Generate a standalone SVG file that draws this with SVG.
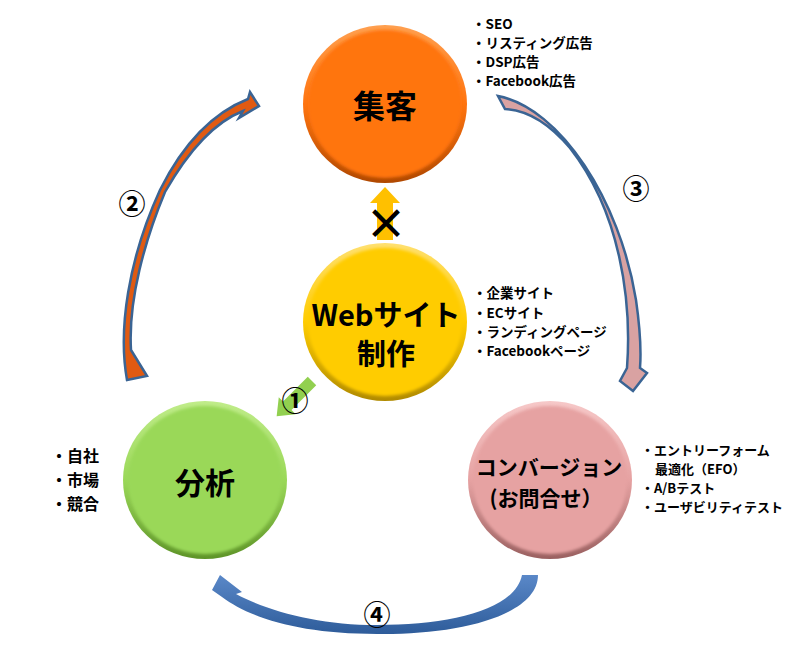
<svg xmlns="http://www.w3.org/2000/svg" width="800" height="651" viewBox="0 0 800 651">
<defs>
<linearGradient id="rimO" x1="0" y1="0" x2="0" y2="1"><stop offset="0" stop-color="#FFA050"/><stop offset="0.5" stop-color="#FF7410"/><stop offset="1" stop-color="#B04800"/></linearGradient>
<linearGradient id="rimY" x1="0" y1="0" x2="0" y2="1"><stop offset="0" stop-color="#FFE070"/><stop offset="0.5" stop-color="#FFCC00"/><stop offset="1" stop-color="#B08A00"/></linearGradient>
<linearGradient id="rimG" x1="0" y1="0" x2="0" y2="1"><stop offset="0" stop-color="#C0EC8A"/><stop offset="0.5" stop-color="#9AD858"/><stop offset="1" stop-color="#5E9428"/></linearGradient>
<linearGradient id="rimP" x1="0" y1="0" x2="0" y2="1"><stop offset="0" stop-color="#F6C8C8"/><stop offset="0.5" stop-color="#E6A2A2"/><stop offset="1" stop-color="#9A6060"/></linearGradient>
<linearGradient id="blueArr" x1="0" y1="0" x2="0" y2="1"><stop offset="0" stop-color="#5A88C8"/><stop offset="1" stop-color="#2E5C9A"/></linearGradient>
<filter id="soft" x="-10%" y="-10%" width="120%" height="120%"><feGaussianBlur stdDeviation="1.5"/></filter>
<style>
.lbl{font-family:"Noto Sans CJK JP","Noto Sans",sans-serif;font-weight:bold;fill:#000;}
.big{text-anchor:middle;dominant-baseline:central;}
.list{font-size:13.5px;}
.list2{font-size:13px;}
.num{font-size:27px;text-anchor:middle;dominant-baseline:central;}
.outl{stroke:#3A6494;stroke-width:2.5;stroke-linejoin:miter;}
</style>
</defs>
<rect width="800" height="651" fill="#FFFFFF"/>

<g id="connectors">
  <!-- arrow 2: analysis -> attract -->
  <path class="outl" fill="#E05A12" d="M127,380 C118,330 128,260 160,190 C185,140 215,112 248,99 L250,92 L259,106 L239,118 L243,111 C215,122 190,148 165,192 C145,240 128,300 131,350 L147,376 Z"/>
  <!-- arrow 3: attract -> conversion -->
  <path class="outl" fill="#D9A2A2" d="M498,96 C560,108 620,200 636,300 C641,335 641,355 640,368 L647,373 L633,391 L620,381 L627,368 C632,300 620,212 570,148 C548,122 525,110 505,109 Z"/>
  <!-- arrow 4: conversion -> analysis -->
  <path fill="url(#blueArr)" d="M538,575 C538,615 460,635 377,634 C300,634 250,618 222,597 L212,590 L220,575 L242,592 L236,594 C270,612 320,625 377,625 C450,625 515,610 522,575 Z"/>
  <!-- arrow 1: web -> analysis -->
  <polygon fill="#92D050" transform="translate(312,381) rotate(135)" points="0,-6 35,-6 35,-12 50,0 35,12 35,6 0,6"/>
  <!-- blocked arrow: web -> attract -->
  <polygon fill="#FFC000" points="377,240 377,203 370,203 385,187 400,203 393,203 393,240"/>
  <text class="lbl" x="386" y="220" font-size="42" text-anchor="middle" dominant-baseline="central">×</text>
  <text class="lbl num" x="295" y="399">①</text>
  <text class="lbl num" x="132" y="202">②</text>
  <text class="lbl num" x="636" y="187">③</text>
  <text class="lbl num" x="377" y="613">④</text>
</g>

<g id="node-shukaku">
  <ellipse cx="385" cy="104" rx="82" ry="79" fill="url(#rimO)"/>
  <ellipse cx="385" cy="104" rx="77" ry="74" fill="#FF7410" filter="url(#soft)"/>
  <text class="lbl big" x="385" y="104" font-size="32">集客</text>
</g>

<g id="node-web">
  <ellipse cx="385" cy="322" rx="82" ry="79" fill="url(#rimY)"/>
  <ellipse cx="385" cy="322" rx="77" ry="74" fill="#FFCC00" filter="url(#soft)"/>
  <text class="lbl big" x="386" y="313" font-size="29">Webサイト</text>
  <text class="lbl big" x="386" y="352" font-size="29">制作</text>
</g>

<g id="node-bunseki">
  <ellipse cx="205" cy="480" rx="82" ry="79" fill="url(#rimG)"/>
  <ellipse cx="205" cy="480" rx="77" ry="74" fill="#9AD858" filter="url(#soft)"/>
  <text class="lbl big" x="205" y="481" font-size="30">分析</text>
</g>

<g id="node-cv">
  <ellipse cx="550" cy="480" rx="82" ry="79" fill="url(#rimP)"/>
  <ellipse cx="550" cy="480" rx="77" ry="74" fill="#E6A2A2" filter="url(#soft)"/>
  <text class="lbl big" x="549" y="466" font-size="21">コンバージョン</text>
  <text class="lbl big" x="546" y="497" font-size="21">(お問合せ）</text>
</g>

<g id="notes">
  <text class="lbl list" x="472" y="29">・SEO</text>
  <text class="lbl list" x="472" y="48">・リスティング広告</text>
  <text class="lbl list" x="472" y="67">・DSP広告</text>
  <text class="lbl list" x="472" y="86">・Facebook広告</text>

  <text class="lbl list" x="473" y="298">・企業サイト</text>
  <text class="lbl list" x="473" y="318">・ECサイト</text>
  <text class="lbl list" x="473" y="337">・ランディングページ</text>
  <text class="lbl list" x="473" y="356">・Facebookページ</text>

  <text class="lbl list2" x="641" y="455">・エントリーフォーム</text>
  <text class="lbl list2" x="655" y="474">最適化（EFO）</text>
  <text class="lbl list2" x="641" y="493">・A/Bテスト</text>
  <text class="lbl list2" x="641" y="512">・ユーザビリティテスト</text>

  <text class="lbl" x="51" y="462" font-size="16">・自社</text>
  <text class="lbl" x="51" y="486" font-size="16">・市場</text>
  <text class="lbl" x="51" y="510" font-size="16">・競合</text>
</g>
</svg>
